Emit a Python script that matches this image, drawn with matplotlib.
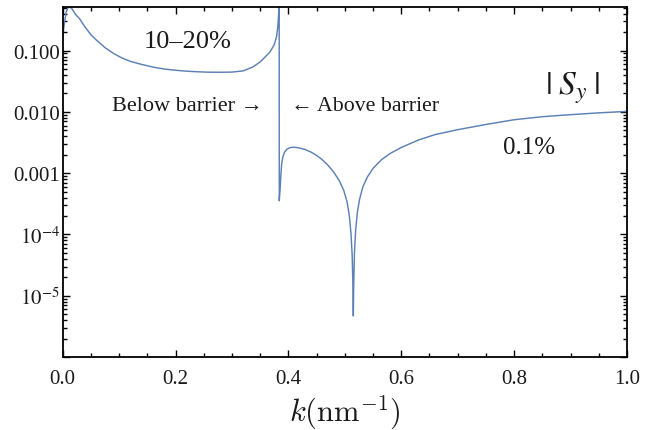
import matplotlib
matplotlib.use("Agg")
import matplotlib.pyplot as plt
from matplotlib.ticker import FixedLocator, NullFormatter
import numpy as np

# Data (k in nm^-1, |S_y|)
k_below = [0.0, 0.003, 0.006, 0.009, 0.012, 0.016, 0.022, 0.030, 0.040, 0.050,
           0.060, 0.075, 0.090, 0.105, 0.120, 0.140, 0.160, 0.180, 0.200, 0.220,
           0.240, 0.260, 0.280, 0.300, 0.320, 0.337, 0.350, 0.3674, 0.375, 0.3792,
           0.3815, 0.3833, 0.3836]
s_below = [0.166, 0.282, 0.417, 0.501, 0.513, 0.490, 0.398, 0.331, 0.240, 0.182,
           0.148, 0.112, 0.0902, 0.0759, 0.0668, 0.0596, 0.0540, 0.0501, 0.0479, 0.0462,
           0.0452, 0.0445, 0.0444, 0.0447, 0.0468, 0.0542, 0.0655, 0.0953, 0.126, 0.174,
           0.263, 0.501, 5.0]
k_above = [0.3838, 0.3845, 0.3855, 0.3865, 0.388, 0.390, 0.393, 0.397, 0.402, 0.408,
           0.414, 0.420, 0.430, 0.440, 0.450, 0.460, 0.470, 0.480, 0.490, 0.498,
           0.504, 0.508, 0.511, 0.513, 0.5145, 0.515, 0.5155, 0.517, 0.519, 0.522,
           0.526, 0.532, 0.540, 0.550, 0.565, 0.580, 0.600, 0.630, 0.660, 0.700,
           0.750, 0.800, 0.850, 0.900, 0.950, 1.000]
s_above = [3.55e-4, 4.47e-4, 6.03e-4, 8.91e-4, 1.41e-3, 1.82e-3, 2.19e-3, 2.45e-3, 2.60e-3, 2.66e-3,
           2.63e-3, 2.57e-3, 2.43e-3, 2.21e-3, 1.95e-3, 1.66e-3, 1.35e-3, 1.05e-3, 7.59e-4, 5.25e-4,
           3.39e-4, 2.0e-4, 1.0e-4, 4.47e-5, 1.26e-5, 4.68e-6, 1.26e-5, 5.01e-5, 1.12e-4, 2.24e-4,
           3.72e-4, 6.03e-4, 8.7e-4, 1.20e-3, 1.66e-3, 2.09e-3, 2.63e-3, 3.47e-3, 4.27e-3, 5.13e-3,
           6.24e-3, 7.46e-3, 8.36e-3, 9.02e-3, 9.66e-3, 1.02e-2]

y_ticks = [1e-1, 1e-2, 1e-3, 1e-4, 1e-5]
y_tick_labels = ["0.100", "0.010", "0.001", r"$10^{-4}$", r"$10^{-5}$"]
x_ticks = [0.0, 0.2, 0.4, 0.6, 0.8, 1.0]
x_tick_labels = ["0.0", "0.2", "0.4", "0.6", "0.8", "1.0"]

serif = ["Liberation Serif", "DejaVu Serif"]
plt.rcParams["font.family"] = serif
plt.rcParams["mathtext.fontset"] = "stix"

line_color = "#5E81B5"
text_color = "#1a1a1a"

fig = plt.figure(figsize=(6.47, 4.31), dpi=100)
ax = fig.add_axes([62.7 / 647, (431 - 358) / 431, (627 - 62.7) / 647, (358 - 8) / 431])

k_all = k_below + k_above
s_all = s_below + s_above
ax.plot(k_all, s_all, color=line_color, lw=1.05, solid_joinstyle="round")

ax.set_yscale("log")
ax.set_xlim(0, 1)
ax.set_ylim(1e-6, 0.516)

ax.xaxis.set_major_locator(FixedLocator(x_ticks))
ax.set_xticklabels(x_tick_labels)
ax.xaxis.set_minor_locator(FixedLocator(np.arange(0.05, 1.0, 0.05)))
ax.yaxis.set_major_locator(FixedLocator(y_ticks + [1e-6]))
ax.set_yticklabels(y_tick_labels + [""])
minor_y = [m * 10.0 ** e for e in range(-6, 0) for m in range(2, 10)]
ax.yaxis.set_minor_locator(FixedLocator(minor_y))
ax.yaxis.set_minor_formatter(NullFormatter())

ax.tick_params(which="both", direction="in", top=True, right=True,
               colors="black", labelcolor=text_color, labelsize=15, width=1.0)
ax.tick_params(which="major", length=5)
ax.tick_params(which="minor", length=3)
ax.tick_params(axis="x", which="major", pad=9)
ax.tick_params(axis="y", which="major", pad=2)
for sp in ax.spines.values():
    sp.set_linewidth(1.3)
    sp.set_color("black")

ax.set_xlabel(r"$k(\mathrm{nm}^{-1})$", fontsize=22, math_fontfamily="cm",
              color=text_color, labelpad=3)

ax.text(0.2205, 0.144, "10–20%", fontsize=19, color=text_color,
        ha="center", va="center")
ax.text(0.087, 0.0125, "Below barrier →", fontsize=16, color=text_color,
        ha="left", va="center")
ax.text(0.405, 0.0125, "← Above barrier", fontsize=15.7, color=text_color,
        ha="left", va="center")
ax.text(0.903, 0.0255, r"$|\;S_y\;|$", fontsize=24, color=text_color,
        ha="center", va="center")
ax.text(0.826, 0.0027, "0.1%", fontsize=18, color=text_color,
        ha="center", va="center")

fig.savefig("out.png", dpi=100)
